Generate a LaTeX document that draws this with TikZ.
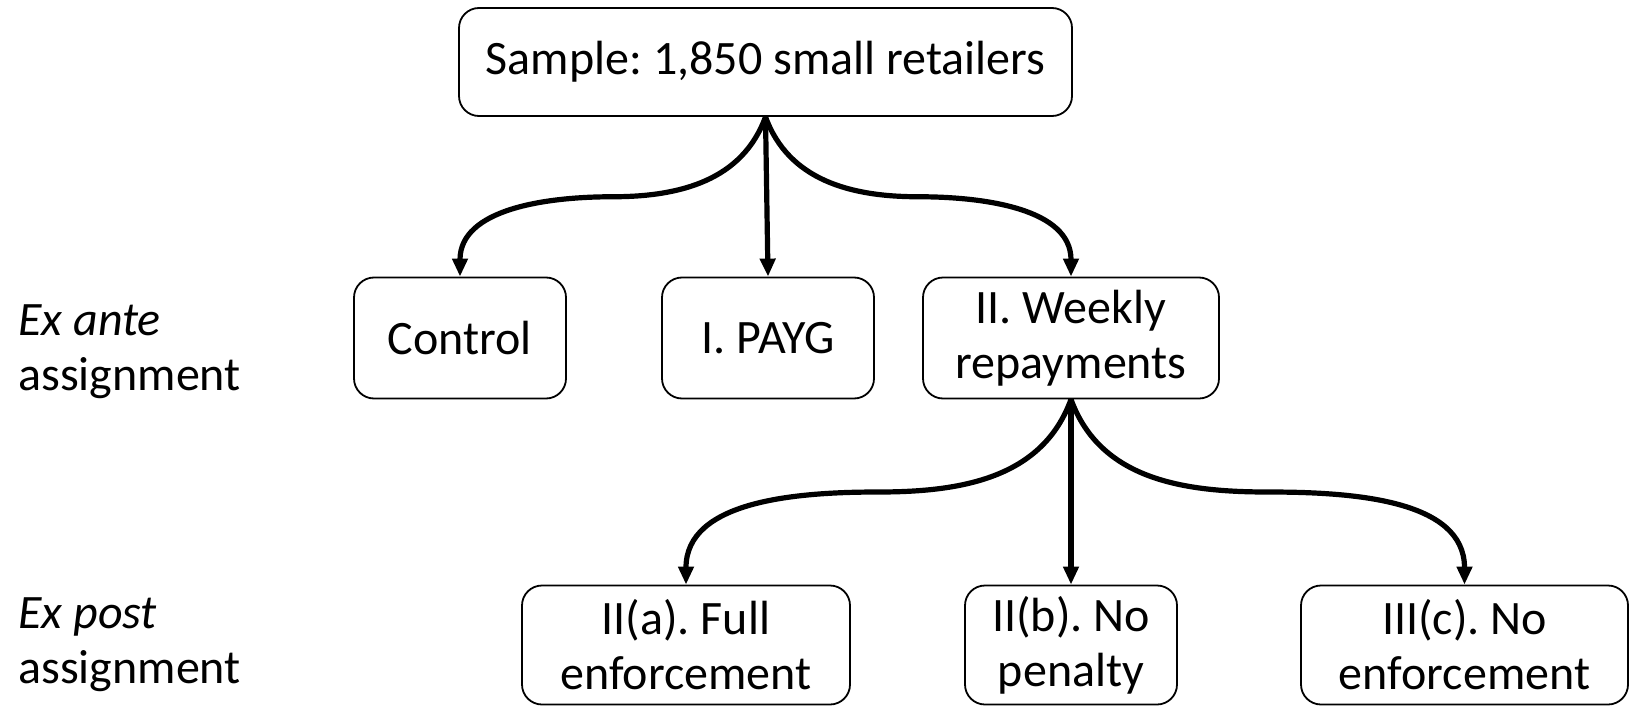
\documentclass[tikz,border=0pt]{standalone}
\usepackage{fontspec}
\setmainfont{Carlito}
\usetikzlibrary{calc,arrows.meta}
\begin{document}
\frenchspacing
\begin{tikzpicture}[x=0.5pt,y=-0.5pt,
  box/.style={draw,rounded corners=10pt,line width=0.9pt,align=center,inner sep=0pt,
    font=\fontsize{24}{27.5}\selectfont},
  lbl/.style={align=left,inner sep=0pt,anchor=west,font=\fontsize{24}{27.5}\selectfont},
  arr/.style={line width=2.6pt,-{Triangle[length=9pt,width=7.5pt]}}]
\useasboundingbox (0,0) rectangle (1632,706);
\node[box,minimum width=306.5pt,minimum height=54pt] (top) at (765.5,62) {Sample: 1,850 small retailers};
\node[box,minimum width=106pt,minimum height=60.5pt] (ctrl) at (460,338) {Control};
\node[box,minimum width=106pt,minimum height=60.5pt] (payg) at (768,338) {I. PAYG};
\node[box,minimum width=148pt,minimum height=60.5pt] (weekly) at (1071,338) {II. Weekly\\repayments};
\node[box,minimum width=164pt,minimum height=59.5pt] (fa) at (686,645) {II(a). Full\\enforcement};
\node[box,minimum width=106pt,minimum height=59.5pt] (fb) at (1071,645) {II(b). No\\penalty};
\node[box,minimum width=163.5pt,minimum height=59.5pt] (fc) at (1464.5,645) {III(c). No\\enforcement};
\node[lbl] (exante) at (18,352) {\textit{Ex ante}\\assignment};
\node[lbl] (expost) at (18,645) {\textit{Ex post}\\assignment};
\draw[arr] (top.south) to[out=-110,in=0] ($(top.south)!0.5!(ctrl.north)$) to[out=180,in=90] (ctrl.north);
\draw[arr] (top.south) -- (payg.north);
\draw[arr] (top.south) to[out=-70,in=180] ($(top.south)!0.5!(weekly.north)$) to[out=0,in=90] (weekly.north);
\draw[arr] (weekly.south) to[out=-110,in=0] ($(weekly.south)!0.5!(fa.north)$) to[out=180,in=90] (fa.north);
\draw[arr] (weekly.south) -- (fb.north);
\draw[arr] (weekly.south) to[out=-70,in=180] ($(weekly.south)!0.5!(fc.north)$) to[out=0,in=90] (fc.north);
\end{tikzpicture}
\end{document}
